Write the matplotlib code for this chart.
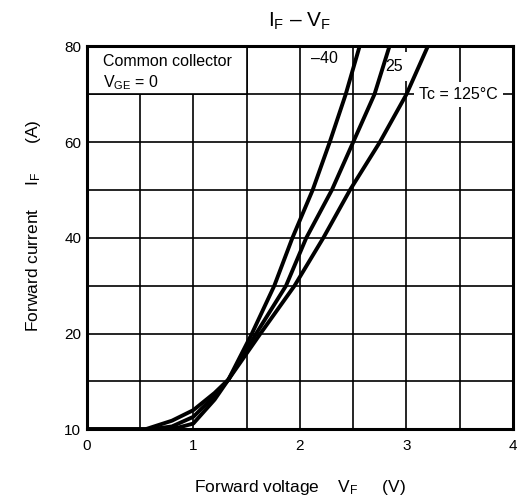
import numpy as np
import matplotlib
matplotlib.use('Agg')
import matplotlib.pyplot as plt
from matplotlib.patches import Rectangle

plt.rcParams['font.family'] = ['Liberation Sans', 'DejaVu Sans']
plt.rcParams['mathtext.fontset'] = 'custom'
plt.rcParams['mathtext.rm'] = 'Liberation Sans'

# Forward voltage (V) vs forward current (A)
vf_m40 = [0, 0.7, 0.85, 1.0, 1.2, 1.33, 1.55, 1.76, 1.93, 2.12, 2.28, 2.43, 2.56]
if_m40 = [10, 10, 10.15, 10.6, 13.1, 15.2, 20, 30, 40, 50, 60, 70, 80]

vf_25 = [0, 0.6, 0.8, 1.0, 1.2, 1.33, 1.59, 1.87, 2.06, 2.30, 2.50, 2.70, 2.84]
if_25 = [10, 10, 10.3, 11.3, 13.5, 15.2, 20, 30, 40, 50, 60, 70, 80]

vf_125 = [0, 0.55, 0.8, 1.0, 1.2, 1.33, 1.63, 1.95, 2.22, 2.47, 2.75, 3.0, 3.2]
if_125 = [10, 10, 10.9, 12.0, 13.8, 15.2, 20, 30, 40, 50, 60, 70, 80]

x_ticks = [0, 1, 2, 3, 4]
x_minor = [0.5, 1.5, 2.5, 3.5]
y_ticks = [10, 20, 40, 60, 80]
y_minor = [15, 30, 50, 70]


# the 10..20 A band is stretched to the same height as 20..40 A
def fwd(y):
    y = np.asarray(y, dtype=float)
    return np.where(y < 20, 2 * (y - 10), y)


def inv(t):
    t = np.asarray(t, dtype=float)
    return np.where(t < 20, t / 2 + 10, t)


fig = plt.figure(figsize=(5.17, 5.01), dpi=100)
ax = fig.add_axes([0.1677, 0.1431, 0.8246, 0.7641])
ax.set_yscale('function', functions=(fwd, inv))
ax.set_xlim(0, 4)
ax.set_ylim(10, 80)

ax.set_xticks(x_ticks)
ax.set_xticks(x_minor, minor=True)
ax.set_yticks(y_ticks)
ax.set_yticks(y_minor, minor=True)
ax.set_yticklabels([str(v) for v in y_ticks])
ax.tick_params(which='both', length=0, labelsize=11)
ax.tick_params(axis='x', pad=7)
ax.tick_params(axis='y', pad=4)
ax.grid(which='both', color='black', linewidth=1.2, zorder=0)
ax.set_axisbelow(True)
for s in ax.spines.values():
    s.set_linewidth(2.2)
    s.set_zorder(5)

for vf, i_f in [(vf_m40, if_m40), (vf_25, if_25), (vf_125, if_125)]:
    ax.plot(vf, i_f, color='black', linewidth=2.8, zorder=4,
            solid_joinstyle='round')

# condition box in the upper left cell block
ax.add_patch(Rectangle((0, 70), 1.5, 10, facecolor='white', edgecolor='black',
                       linewidth=1.2, zorder=2))
ax.text(0.15, 76.8, 'Common collector', fontsize=11.5, va='center', zorder=3)
ax.text(0.15, 72.4, r'$\mathregular{V_{GE}}$ = 0', fontsize=11.5, va='center', zorder=3)

ax.text(2.23, 77.4, '\u201340', fontsize=11.5, ha='center', va='center', zorder=3)
ax.text(2.88, 75.8, '25', fontsize=11.5, ha='center', va='center', zorder=3,
        bbox=dict(boxstyle='square,pad=0.45', facecolor='white', edgecolor='none'))
ax.text(3.12, 70, 'Tc = 125\u00b0C', fontsize=11.5, ha='left', va='center', zorder=3,
        bbox=dict(boxstyle='square,pad=0.3', facecolor='white', edgecolor='none'))

ax.set_title('$\\mathregular{I_F}$ \u2013 $\\mathregular{V_F}$', fontsize=15, pad=14)
ax.set_xlabel(r'Forward voltage    $\mathregular{V_F}$     (V)', fontsize=12.5)
ax.set_ylabel(r'Forward current     $\mathregular{I_F}$      (A)', fontsize=12.5)
ax.xaxis.set_label_coords(0.5, -0.128)
ax.yaxis.set_label_coords(-0.102, 0.533)

fig.savefig('out.png', dpi=100)
